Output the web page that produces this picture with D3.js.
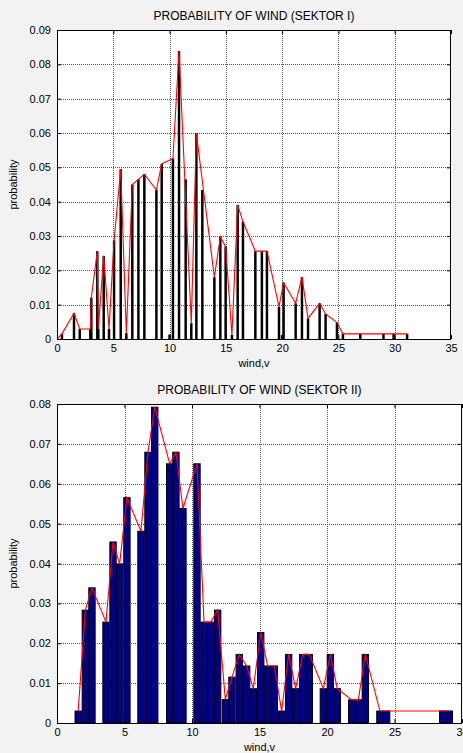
<!DOCTYPE html>
<html><head><meta charset="utf-8">
<script src="https://cdn.jsdelivr.net/npm/d3@7"></script>
<style>
body{margin:0;background:#f2f2f2;}
svg{display:block;}
text{font-family:"Liberation Sans",Arial,sans-serif;fill:#000;}
</style>
</head><body>
<svg id="c" width="463" height="753"></svg>
<script>
// ---- Sector I ----
const s1BarWind = [0.44,1.51,2.02,2.96,3.05,3.58,3.67,4.15,4.62,5.07,5.66,6.16,6.69,7.23,7.76,8.83,9.3,10.0,10.3,10.84,11.43,11.93,12.38,12.91,13.98,14.51,14.98,15.54,16.05,16.52,17.62,18.2,18.65,19.72,20.0,20.13,21.2,21.76,22.3,23.33,23.86,24.87,25.4,26.94,29.0,29.9,31.1];
const s1BarProb = [0.0015,0.0075,0.0029,0.0029,0.012,0.0256,0.003,0.0242,0.003,0.0287,0.0495,0.0017,0.045,0.0465,0.048,0.0434,0.051,0.0013,0.0526,0.0839,0.0465,0.0046,0.0599,0.0434,0.018,0.0298,0.0269,0.0012,0.039,0.0342,0.0256,0.0256,0.0256,0.0094,0.0012,0.0164,0.0104,0.018,0.006,0.0104,0.0073,0.0048,0.0015,0.0015,0.0015,0.0015,0.0015];
const s1LineWind = [0,0.44,1.51,2.02,2.96,3.05,3.58,3.67,4.15,4.62,5.07,5.66,6.16,6.69,7.23,7.76,8.83,9.3,10.3,10.84,11.93,12.38,13.98,14.51,14.98,15.54,16.05,16.52,17.62,18.2,18.65,19.72,20.13,21.2,21.76,22.3,23.33,23.86,24.87,25.4,26.94,29.0,29.9,31.1];
const s1LineProb = [0,0.0015,0.0075,0.0029,0.0029,0.012,0.0256,0.003,0.0242,0.003,0.0287,0.0495,0.0017,0.045,0.0465,0.048,0.0434,0.051,0.0526,0.0839,0.0046,0.0599,0.018,0.0298,0.0269,0.0012,0.039,0.0342,0.0256,0.0256,0.0256,0.0094,0.0164,0.0104,0.018,0.006,0.0104,0.0073,0.0048,0.0015,0.0015,0.0015,0.0015,0.0015];
const s1XTicks = [0,5,10,15,20,25,30,35];
const s1YTicks = [0,0.01,0.02,0.03,0.04,0.05,0.06,0.07,0.08,0.09];
const s1Title = "PROBABILITY OF WIND (SEKTOR I)";

// ---- Sector II ----
const s2Wind = [1.57,2.1,2.59,3.63,4.15,4.64,5.18,6.22,6.74,7.24,8.35,8.81,9.33,10.37,10.89,11.39,11.9,12.47,12.96,13.5,14.05,14.54,15.09,15.6,16.1,16.64,17.16,17.68,18.2,18.69,19.73,20.25,20.76,21.83,22.32,22.84,23.92,24.42,28.57,29.06];
const s2Prob = [0.003,0.0283,0.0339,0.0253,0.0454,0.0399,0.0565,0.0481,0.0679,0.0792,0.065,0.0679,0.0538,0.065,0.0253,0.0253,0.0283,0.0059,0.0115,0.0172,0.0143,0.0086,0.0227,0.0143,0.0143,0.003,0.0172,0.0086,0.0172,0.0172,0.0086,0.0172,0.0086,0.0058,0.0058,0.0172,0.003,0.003,0.003,0.003];
const s2XTicks = [0,5,10,15,20,25,30];
const s2YTicks = [0,0.01,0.02,0.03,0.04,0.05,0.06,0.07,0.08];
const s2Title = "PROBABILITY OF WIND (SEKTOR II)";

const xLabel = "wind,v";
const yLabel = "probability";

const svg = d3.select("#c");
const fmtY = d => d === 0 ? "0" : d.toFixed(2);

function panel(o) {
  const g = svg.append("g");
  const x = d3.scaleLinear().domain(o.xDomain).range([o.left, o.right]);
  const y = d3.scaleLinear().domain(o.yDomain).range([o.bottom, o.top]);
  const w = o.right - o.left, h = o.bottom - o.top;

  g.append("rect").attr("x", o.left).attr("y", o.top).attr("width", w).attr("height", h).attr("fill", "#fff");

  // grid
  const grid = g.append("g").attr("stroke", "#5a5a5a").attr("stroke-dasharray", "1,1").attr("stroke-width", 1);
  grid.selectAll(".gx").data(o.xTicks.slice(1, -1)).join("line")
    .attr("x1", d => Math.round(x(d)) + 0.5).attr("x2", d => Math.round(x(d)) + 0.5)
    .attr("y1", o.top).attr("y2", o.bottom);
  grid.selectAll(".gy").data(o.yTicks.slice(1, -1)).join("line")
    .attr("y1", d => Math.round(y(d)) + 0.5).attr("y2", d => Math.round(y(d)) + 0.5)
    .attr("x1", o.left).attr("x2", o.right);

  // bars
  const bw = x(o.barWidth) - x(0);
  g.append("g").selectAll("rect").data(o.barWind.map((v, i) => [v, o.barProb[i]])).join("rect")
    .attr("x", d => x(d[0]) - bw / 2).attr("width", bw)
    .attr("y", d => y(d[1])).attr("height", d => y(0) - y(d[1]))
    .attr("fill", o.barFill).attr("stroke", o.barStroke).attr("stroke-width", o.barStrokeW);

  // line
  const line = d3.line().x(d => x(d[0])).y(d => y(d[1]));
  g.append("path").datum(o.lineWind.map((v, i) => [v, o.lineProb[i]]))
    .attr("d", line).attr("fill", "none").attr("stroke", "#ff0000").attr("stroke-width", 1.1);

  // axes
  const ax = (gen, tr) => {
    const a = g.append("g").attr("transform", tr).call(gen);
    a.select(".domain").remove();
    a.selectAll("line").attr("stroke", "#000");
    a.selectAll("text").attr("font-size", 11).attr("font-family", '"Liberation Sans",Arial,sans-serif');
    return a;
  };
  ax(d3.axisBottom(x).tickValues(o.xTicks).tickSizeInner(-4).tickSizeOuter(0).tickPadding(5), `translate(0,${o.bottom})`);
  ax(d3.axisTop(x).tickValues(o.xTicks).tickSizeInner(-4).tickSizeOuter(0).tickFormat(""), `translate(0,${o.top})`);
  ax(d3.axisLeft(y).tickValues(o.yTicks).tickSizeInner(-4).tickSizeOuter(0).tickPadding(6).tickFormat(fmtY), `translate(${o.left},0)`);
  ax(d3.axisRight(y).tickValues(o.yTicks).tickSizeInner(-4).tickSizeOuter(0).tickFormat(""), `translate(${o.right},0)`);

  g.append("rect").attr("x", o.left + 0.5).attr("y", o.top + 0.5).attr("width", w - 1).attr("height", h)
    .attr("fill", "none").attr("stroke", "#000").attr("stroke-width", 1);

  // texts
  g.append("text").attr("x", (o.left + o.right) / 2).attr("y", o.top - 10).attr("text-anchor", "middle")
    .attr("font-size", 12).text(o.title);
  g.append("text").attr("x", (o.left + o.right) / 2).attr("y", o.bottom + 28).attr("text-anchor", "middle")
    .attr("font-size", 11).text(xLabel);
  g.append("text").attr("transform", `translate(${o.left - 40},${(o.top + o.bottom) / 2}) rotate(-90)`)
    .attr("text-anchor", "middle").attr("font-size", 11).text(yLabel);
}

panel({
  left: 57, right: 451, top: 30, bottom: 339,
  xDomain: [0, 35], yDomain: [0, 0.09],
  xTicks: s1XTicks, yTicks: s1YTicks,
  barWind: s1BarWind, barProb: s1BarProb, barWidth: 0.22,
  barFill: "#000", barStroke: "none", barStrokeW: 0,
  lineWind: s1LineWind, lineProb: s1LineProb,
  title: s1Title
});

panel({
  left: 57, right: 462, top: 404, bottom: 723,
  xDomain: [0, 30], yDomain: [0, 0.08],
  xTicks: s2XTicks, yTicks: s2YTicks,
  barWind: s2Wind, barProb: s2Prob, barWidth: 0.47,
  barFill: "#00008f", barStroke: "#000", barStrokeW: 1,
  lineWind: s2Wind, lineProb: s2Prob,
  title: s2Title
});
</script>
</body></html>
